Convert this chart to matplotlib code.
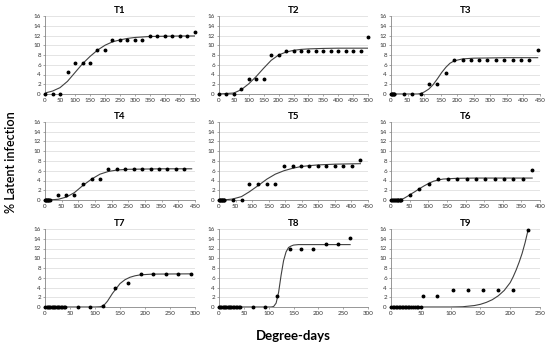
import matplotlib
matplotlib.use("Agg")
import matplotlib.pyplot as plt

# --------- Data ---------
CLUSTER = [0, 2, 4, 6, 8, 10, 12, 14]
CLUSTER_WIDE = [0, 3, 5, 8, 10, 13, 15, 18, 20, 23, 25, 28, 31, 34, 37, 40]

t1_x = [0, 25, 50, 75, 100, 125, 150, 175, 200, 225, 250, 275, 300, 325, 350, 375, 400, 425, 450, 475, 500]
t1_y = [0, 0, 0, 4.5, 6.3, 6.3, 6.3, 9.1, 9.1, 11, 11, 11, 11, 11, 11.9, 11.9, 11.9, 11.9, 11.9, 11.9, 12.8]
t1_fx = [0, 25, 50, 75, 100, 125, 150, 175, 200, 225, 250, 275, 300, 350, 400, 450, 500]
t1_fy = [0.2, 0.6, 1.3, 2.6, 4.4, 6.2, 7.7, 9.0, 10.0, 10.7, 11.1, 11.4, 11.6, 11.8, 11.85, 11.9, 11.9]

t2_x = [0, 25, 50, 75, 100, 125, 150, 175, 200, 225, 250, 275, 300, 325, 350, 375, 400, 425, 450, 475, 500]
t2_y = [0, 0, 0, 1.1, 3, 3, 3, 8, 8, 8.9, 8.9, 8.9, 8.9, 8.9, 8.9, 8.9, 8.9, 8.9, 8.9, 8.9, 11.7]
t2_fx = [0, 50, 75, 100, 125, 150, 175, 200, 225, 250, 275, 300, 350, 400, 500]
t2_fy = [0, 0.2, 0.9, 2.1, 3.6, 5.3, 6.9, 8.0, 8.6, 8.95, 9.15, 9.25, 9.35, 9.4, 9.4]

t3_x = CLUSTER[:6] + [38, 64, 90, 114, 140, 166, 191, 216, 241, 266, 291, 316, 342, 367, 392, 417, 443]
t3_y = [0] * 6 + [0, 0, 0, 2, 2, 4.3, 7, 7, 7, 7, 7, 7, 7, 7, 7, 7, 9]
t3_fx = [0, 80, 90, 100, 114, 127, 140, 153, 166, 178, 191, 216, 250, 300, 350, 443]
t3_fy = [0, 0, 0.1, 0.4, 1.0, 1.9, 3.1, 4.4, 5.5, 6.3, 6.8, 7.2, 7.35, 7.4, 7.45, 7.45]

t4_x = CLUSTER + [38, 64, 88, 114, 140, 165, 190, 216, 241, 266, 292, 317, 342, 367, 392, 418]
t4_y = [0] * 8 + [1.1, 1.1, 1.1, 3.3, 4.4, 4.4, 6.3, 6.3, 6.3, 6.3, 6.3, 6.3, 6.3, 6.3, 6.3, 6.3]
t4_fx = [0, 20, 40, 64, 88, 114, 140, 165, 190, 216, 250, 300, 350, 440]
t4_fy = [0, 0.05, 0.15, 0.6, 1.5, 3.0, 4.3, 5.3, 5.85, 6.15, 6.3, 6.35, 6.4, 6.4]

t5_x = CLUSTER + [16, 41, 68, 92, 119, 145, 170, 196, 222, 247, 273, 298, 324, 350, 375, 401, 427]
t5_y = [0] * 9 + [0, 0, 3.3, 3.3, 3.3, 3.3, 7, 7, 7, 7, 7, 7, 7, 7, 7, 8.2]
t5_fx = [0, 20, 41, 68, 92, 119, 145, 170, 196, 222, 247, 273, 300, 350, 427]
t5_fy = [0, 0.05, 0.2, 0.7, 1.7, 3.0, 4.3, 5.3, 6.0, 6.5, 6.85, 7.05, 7.2, 7.35, 7.45]

t6_x = CLUSTER_WIDE[:12] + [51, 76, 101, 127, 152, 177, 203, 228, 253, 278, 303, 328, 354, 379]
t6_y = [0] * 12 + [1.1, 2.2, 3.3, 4.3, 4.3, 4.3, 4.3, 4.3, 4.3, 4.3, 4.3, 4.3, 4.3, 6.1]
t6_fx = [0, 25, 35, 45, 51, 64, 76, 89, 101, 114, 127, 140, 152, 177, 228, 379]
t6_fy = [0, 0.05, 0.35, 0.8, 1.1, 1.7, 2.3, 2.9, 3.4, 3.85, 4.1, 4.3, 4.35, 4.45, 4.5, 4.5]

t7_x = CLUSTER_WIDE + [65, 90, 115, 141, 166, 191, 216, 241, 267, 292]
t7_y = [0] * 16 + [0, 0, 0.2, 3.9, 5, 6.8, 6.8, 6.8, 6.8, 6.8]
t7_fx = [0, 100, 110, 115, 120, 125, 130, 135, 141, 150, 160, 170, 180, 191, 216, 292]
t7_fy = [0, 0, 0.05, 0.2, 0.6, 1.2, 2.0, 2.8, 3.6, 4.8, 5.6, 6.1, 6.4, 6.6, 6.75, 6.8]

t8_x = CLUSTER_WIDE + [43, 68, 93, 117, 142, 166, 190, 215, 240, 264]
t8_y = [0] * 17 + [0, 0, 2.3, 11.9, 11.9, 11.9, 13, 13, 14.1]
t8_fx = [0, 105, 110, 115, 120, 125, 130, 135, 140, 145, 150, 160, 175, 264]
t8_fy = [0, 0, 0.1, 0.8, 3.0, 6.5, 9.5, 11.3, 12.2, 12.5, 12.7, 12.8, 12.8, 12.8]

t9_x = CLUSTER_WIDE + [43, 46, 50, 53, 78, 104, 129, 154, 180, 205, 230]
t9_y = [0] * 19 + [2.2, 2.2, 3.4, 3.4, 3.4, 3.4, 3.4, 15.8]
t9_fx = [0, 100, 120, 140, 150, 160, 170, 180, 190, 200, 205, 210, 215, 220, 225, 230]
t9_fy = [0, 0, 0.05, 0.3, 0.55, 0.95, 1.5, 2.3, 3.4, 5.0, 6.2, 7.6, 9.2, 11.0, 13.2, 15.8]

PANELS = [
    ("T1", t1_x, t1_y, t1_fx, t1_fy, 500),
    ("T2", t2_x, t2_y, t2_fx, t2_fy, 500),
    ("T3", t3_x, t3_y, t3_fx, t3_fy, 450),
    ("T4", t4_x, t4_y, t4_fx, t4_fy, 450),
    ("T5", t5_x, t5_y, t5_fx, t5_fy, 450),
    ("T6", t6_x, t6_y, t6_fx, t6_fy, 400),
    ("T7", t7_x, t7_y, t7_fx, t7_fy, 300),
    ("T8", t8_x, t8_y, t8_fx, t8_fy, 300),
    ("T9", t9_x, t9_y, t9_fx, t9_fy, 250),
]

# --------- Layout (pixel boxes of the reference) ---------
W, H = 550, 347
COL_LEFT = [45, 219, 391]
COL_WIDTH = [150, 149, 149]
ROW_TOP = [16, 122, 229]
AX_H = 78

plt.rcParams["font.family"] = ["Lato", "DejaVu Sans"]

fig = plt.figure(figsize=(W / 100, H / 100), dpi=100)

for i, (name, x, y, fx, fy, xmax) in enumerate(PANELS):
    r, c = divmod(i, 3)
    ax = fig.add_axes([
        COL_LEFT[c] / W,
        1 - (ROW_TOP[r] + AX_H) / H,
        COL_WIDTH[c] / W,
        AX_H / H,
    ])
    ax.plot(fx, fy, color="#404040", lw=0.8, zorder=2)
    ax.plot(x, y, "o", color="black", ms=1.8, zorder=3, clip_on=False)
    ax.set_xlim(0, xmax)
    ax.set_ylim(0, 16)
    ax.set_xticks(range(0, xmax + 1, 50))
    ax.set_yticks(range(0, 17, 2))
    ax.grid(axis="y", color="#d9d9d9", lw=0.5)
    ax.set_axisbelow(True)
    for s in ("top", "right"):
        ax.spines[s].set_visible(False)
    for s in ("left", "bottom"):
        ax.spines[s].set_color("#868686")
        ax.spines[s].set_linewidth(0.6)
    ax.tick_params(labelsize=4.5, length=1.5, width=0.5, color="#868686",
                   labelcolor="#333333", pad=1.5)
    ax.set_title(name, fontsize=7, fontweight="bold", pad=2)

fig.text(11 / W, 1 - 162 / H, "% Latent infection", rotation=90,
         ha="center", va="center", fontsize=9, fontweight="semibold")
fig.text(293 / W, 1 - 336 / H, "Degree-days",
         ha="center", va="center", fontsize=9.5, fontweight="bold")

fig.savefig("out.png", dpi=100)
